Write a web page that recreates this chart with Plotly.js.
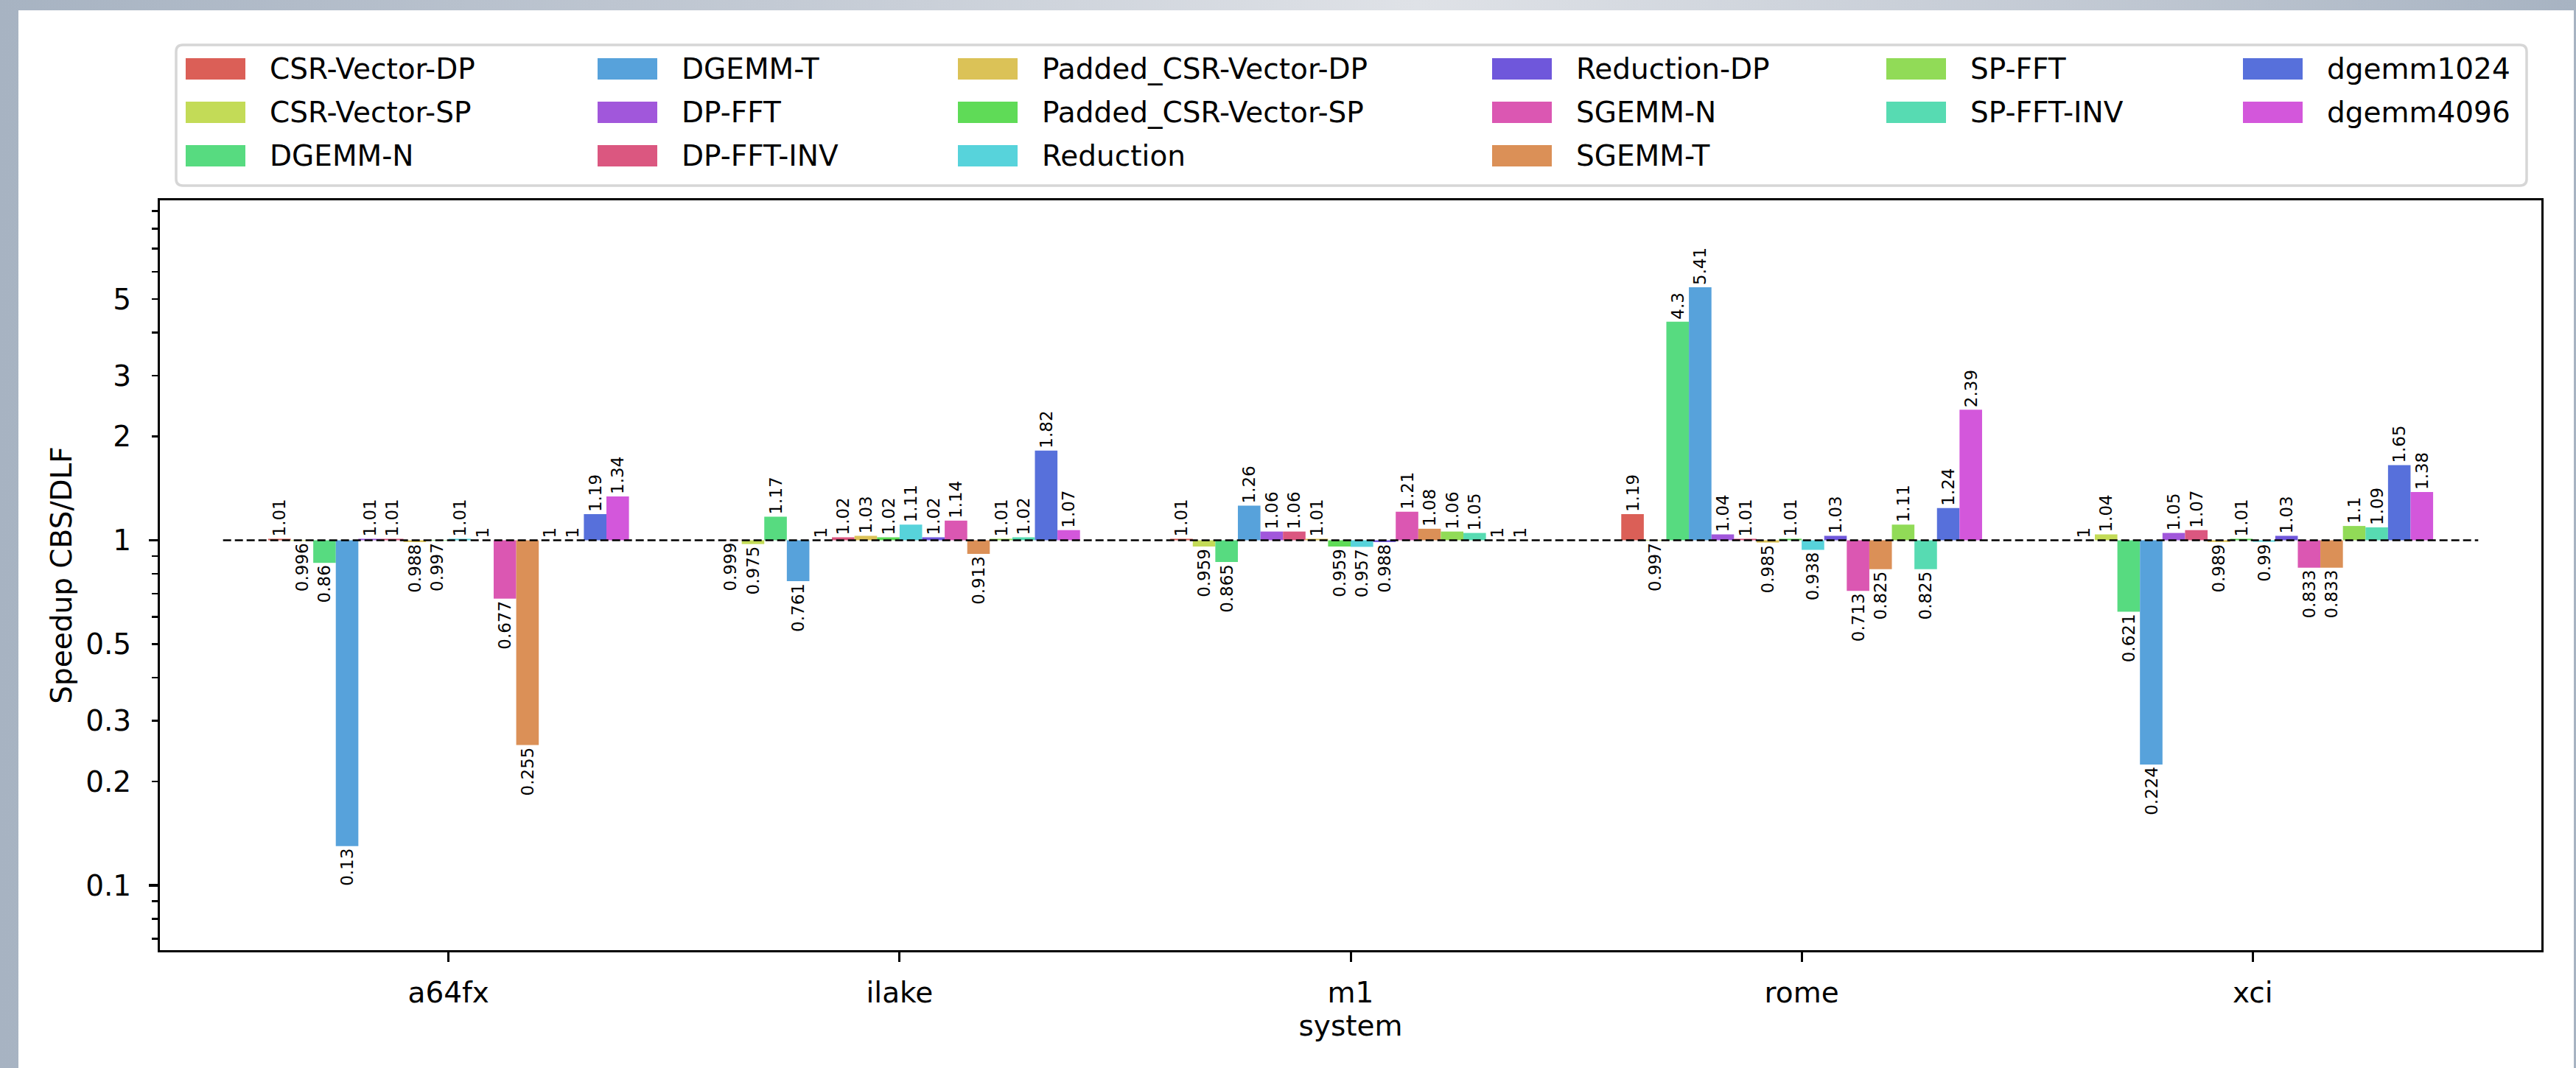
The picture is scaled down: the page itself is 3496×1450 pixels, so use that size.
<!DOCTYPE html>
<html><head><meta charset="utf-8">
<script src="https://cdn.plot.ly/plotly-3.0.1.min.js"></script>
<style>
html,body{margin:0;padding:0;width:3496px;height:1450px;overflow:hidden;
 background:linear-gradient(90deg,#a7b3c2 0%,#c3cad4 30%,#dfe2e7 55%,#c3cad4 80%,#a7b3c2 100%);}
#frame{position:absolute;left:25px;top:14px;width:3468px;height:1436px;background:#fff;}
#chart{width:3468px;height:1436px;}
</style></head><body><div id="frame"><div id="chart"></div></div>
<script>
// ---- data ----
const systems = ['a64fx', 'ilake', 'm1', 'rome', 'xci'];
const benchmarks = ['CSR-Vector-DP', 'CSR-Vector-SP', 'DGEMM-N', 'DGEMM-T', 'DP-FFT', 'DP-FFT-INV',
  'Padded_CSR-Vector-DP', 'Padded_CSR-Vector-SP', 'Reduction', 'Reduction-DP', 'SGEMM-N', 'SGEMM-T',
  'SP-FFT', 'SP-FFT-INV', 'dgemm1024', 'dgemm4096'];
const a64fx = [1.01, 0.996, 0.86, 0.13, 1.01, 1.01, 0.988, 0.997, 1.01, 1, 0.677, 0.255, 1, 1, 1.19, 1.34];
const ilake = [0.999, 0.975, 1.17, 0.761, 1, 1.02, 1.03, 1.02, 1.11, 1.02, 1.14, 0.913, 1.01, 1.02, 1.82, 1.07];
const m1    = [1.01, 0.959, 0.865, 1.26, 1.06, 1.06, 1.01, 0.959, 0.957, 0.988, 1.21, 1.08, 1.06, 1.05, 1, 1];
const rome  = [1.19, 0.997, 4.3, 5.41, 1.04, 1.01, 0.985, 1.01, 0.938, 1.03, 0.713, 0.825, 1.11, 0.825, 1.24, 2.39];
const xci   = [1, 1.04, 0.621, 0.224, 1.05, 1.07, 0.989, 1.01, 0.99, 1.03, 0.833, 0.833, 1.1, 1.09, 1.65, 1.38];
const baseline = 1;
const yTickVals = [0.1, 0.2, 0.3, 0.5, 1, 2, 3, 5];
const yTickText = ['0.1', '0.2', '0.3', '0.5', '1', '2', '3', '5'];
const yMajorVals = [0.1, 1];
const yMinorVals = [0.07, 0.08, 0.09, 0.4, 0.6, 0.7, 0.8, 0.9, 4, 6, 7, 8, 9];

// ---- styles ----
const colors = ['#db5f57', '#c3db57', '#57db80', '#57a2db', '#a157db', '#db5780',
  '#dbc257', '#5fdb57', '#57d3db', '#6f57db', '#db57b2', '#db9057',
  '#91db57', '#57dbb2', '#5770db', '#d357db'];
const FONT = 'DejaVu Sans, sans-serif';

const bySystem = [a64fx, ilake, m1, rome, xci];
const traces = benchmarks.map((name, i) => {
  const vals = bySystem.map(arr => arr[i]);
  return {
    type: 'bar', name: name, x: systems,
    y: vals.map(v => v - baseline), base: vals.map(() => baseline),
    text: vals.map(v => String(v)), textposition: 'outside', textangle: -90,
    constraintext: 'none', cliponaxis: false,
    textfont: {family: FONT, size: 23, color: '#000'},
    marker: {color: colors[i], line: {width: 0}},
    showlegend: false, hoverinfo: 'skip'
  };
});
traces.push({type: 'scatter', x: [], y: [], yaxis: 'y2', showlegend: false, hoverinfo: 'skip'});

// ---- geometry helpers (page px -> paper) ----
const W = 3468, H = 1436, OX = 25, OY = 14;
const M = {l: 192, r: 44, t: 258, b: 160};
const PW = W - M.l - M.r, PH = H - M.t - M.b;
const px2x = X => (X - OX - M.l) / PW;
const px2y = Y => (H - M.b - (Y - OY)) / PH;

// legend (matplotlib style, 6 columns, expand mode)
const colX = [252, 811, 1300, 2025, 2560, 3044];
const rowY = [93.5, 152.5, 211.5];
const colSizes = [3, 3, 3, 3, 2, 2];
const shapes = [];
const annotations = [];
{
  const x0 = px2x(239), x1 = px2x(3429), y0 = px2y(252), y1 = px2y(61);
  const rx = 9 / PW, ry = 9 / PH;
  const p = `M${x0 + rx},${y0} L${x1 - rx},${y0} Q${x1},${y0} ${x1},${y0 + ry} L${x1},${y1 - ry} Q${x1},${y1} ${x1 - rx},${y1} L${x0 + rx},${y1} Q${x0},${y1} ${x0},${y1 - ry} L${x0},${y0 + ry} Q${x0},${y0} ${x0 + rx},${y0} Z`;
  shapes.push({type: 'path', xref: 'paper', yref: 'paper', path: p,
    line: {color: '#d6d6d6', width: 3.5}, fillcolor: 'rgba(255,255,255,0)'});
}
let k = 0;
colSizes.forEach((n, c) => {
  for (let r = 0; r < n; r++, k++) {
    const X = colX[c], Y = rowY[r];
    shapes.push({type: 'rect', xref: 'paper', yref: 'paper',
      x0: px2x(X), x1: px2x(X + 81), y0: px2y(Y + 14.5), y1: px2y(Y - 14.5),
      fillcolor: colors[k], line: {width: 0}});
    annotations.push({xref: 'paper', yref: 'paper', x: px2x(X + 112), y: px2y(Y),
      xanchor: 'left', yanchor: 'middle', showarrow: false, text: benchmarks[k],
      font: {family: FONT, size: 39, color: '#000'}});
  }
});
// reference line at speedup = 1
shapes.push({type: 'line', xref: 'x', yref: 'y', x0: -0.5, x1: 4.5, y0: baseline, y1: baseline,
  line: {color: '#000', width: 2.5, dash: '11px,5px'}, layer: 'above'});

const yRange = [Math.log10(0.0649), Math.log10(9.66)];
const layout = {
  width: W, height: H, margin: M,
  paper_bgcolor: '#fff', plot_bgcolor: '#fff',
  font: {family: FONT, size: 39, color: '#000'},
  barmode: 'group', bargap: 0.2, bargroupgap: 0,
  showlegend: false,
  xaxis: {
    type: 'category', range: [-0.64, 4.64], showgrid: false, zeroline: false,
    showline: true, mirror: true, linecolor: '#000', linewidth: 3,
    ticks: 'outside', ticklen: 13, tickwidth: 3, tickcolor: '#000',
    tickfont: {family: FONT, size: 39, color: '#000'}, ticklabelstandoff: 8,
    title: {text: 'system', font: {family: FONT, size: 39, color: '#000'}, standoff: 3},
    automargin: false
  },
  yaxis: {
    type: 'log', range: yRange, showgrid: false, zeroline: false,
    showline: true, mirror: true, linecolor: '#000', linewidth: 3,
    tickmode: 'array', tickvals: yTickVals, ticktext: yTickText,
    ticks: 'outside', ticklen: 8, tickwidth: 2.5, tickcolor: '#000',
    tickfont: {family: FONT, size: 39, color: '#000'}, ticklabelstandoff: 20,
    minor: {tickmode: 'array', tickvals: yMinorVals, ticks: 'outside', ticklen: 8,
      tickwidth: 2.5, tickcolor: '#000', showgrid: false},
    title: {text: 'Speedup CBS/DLF', font: {family: FONT, size: 39, color: '#000'}, standoff: 7},
    automargin: false
  },
  yaxis2: {
    type: 'log', range: yRange, overlaying: 'y', anchor: 'x', side: 'left',
    showgrid: false, zeroline: false, showline: false, showticklabels: false,
    tickmode: 'array', tickvals: yMajorVals, ticks: 'outside', ticklen: 14, tickwidth: 3.3,
    tickcolor: '#000', automargin: false
  },
  shapes: shapes,
  annotations: annotations
};
Plotly.newPlot('chart', traces, layout, {displayModeBar: false, staticPlot: true});
</script></body></html>
